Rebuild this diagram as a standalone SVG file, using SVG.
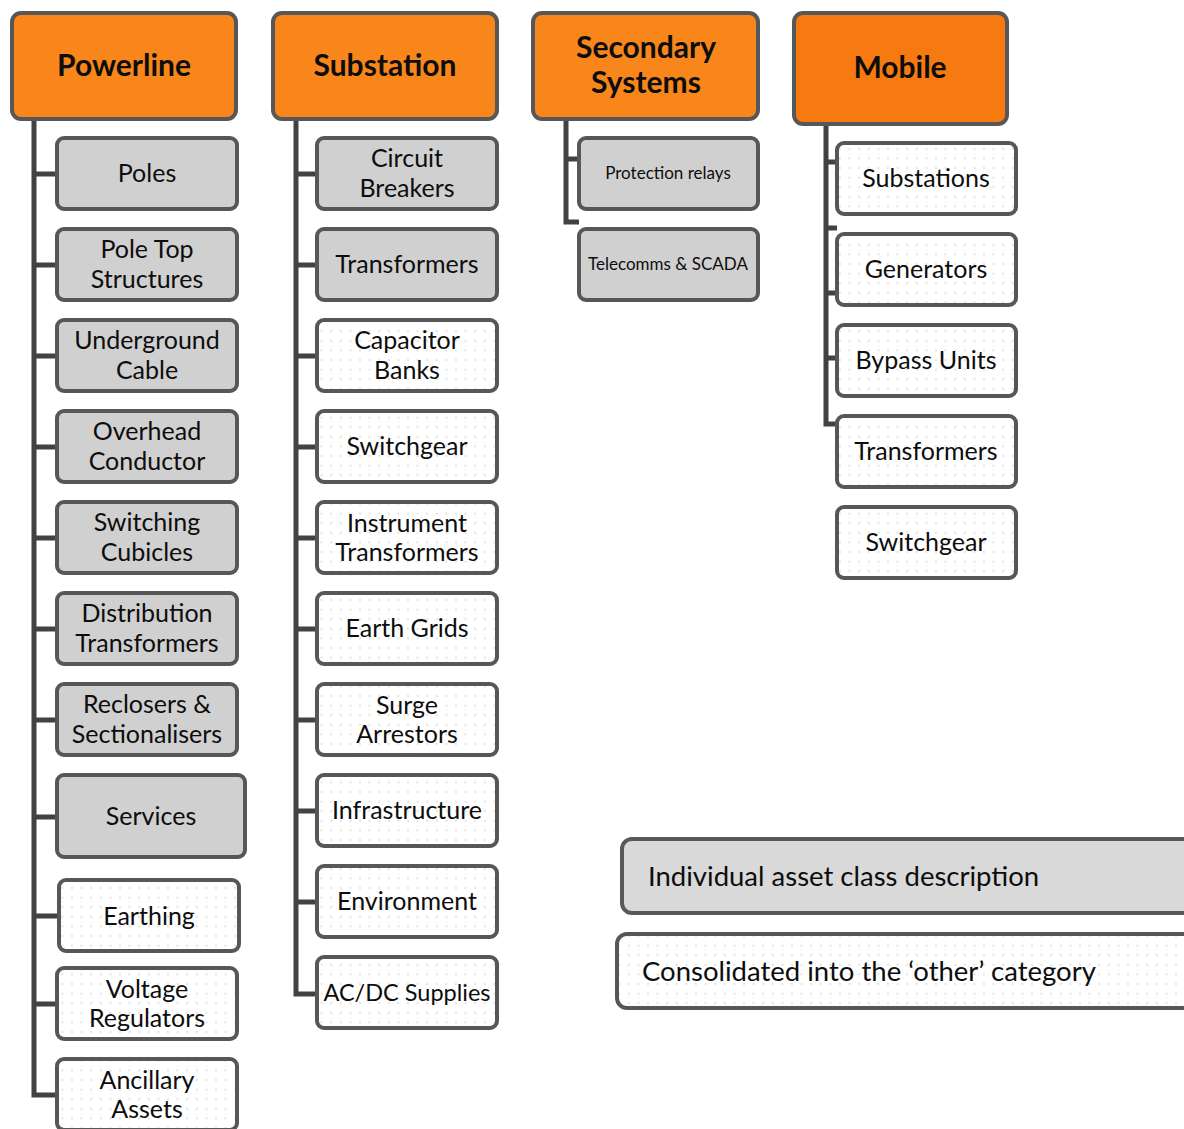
<svg xmlns="http://www.w3.org/2000/svg" width="1184" height="1129" viewBox="0 0 1184 1129">
<defs>
<pattern id="dots" x="0" y="0" width="9.6" height="9.6" patternUnits="userSpaceOnUse">
<rect width="9.6" height="9.6" fill="#ffffff"/>
<circle cx="4.8" cy="4.8" r="0.8" fill="#bdbdbd"/>
</pattern>
</defs>
<style>
.hdr{fill:#F8861A;stroke:#575757;stroke-width:4}
.hdrm{fill:#F77A10;stroke:#575757;stroke-width:4}
.g{fill:#D0D0D0;stroke:#575757;stroke-width:4}
.d{fill:url(#dots);stroke:#575757;stroke-width:4}
.lg{fill:#D9D9D9;stroke:#595959;stroke-width:4}
text{font-family:Lato,"Liberation Sans",sans-serif;fill:#0d0d0d;text-anchor:middle}
.h{font-size:30px;font-weight:bold}
.t{font-size:25px}
.s{font-size:17px}
.l{font-size:27.5px;text-anchor:start}
.c{fill:none;stroke:#424242;stroke-width:5}
</style>
<rect width="1184" height="1129" fill="#ffffff"/>
<g id="connectors" class="c">
<path d="M34 119V1095H57M34 174H57M34 265H57M34 356H57M34 447H57M34 538H57M34 629H57M34 720H57M34 817H57M34 916H59M34 1004H57"/>
<path d="M296 119V994H317M296 174H317M296 265H317M296 356H317M296 447H317M296 538H317M296 629H317M296 720H317M296 811H317M296 902H317"/>
<path d="M566 119V222H579M566 159H579"/>
<path d="M826 124V424H837M826 162H837M826 228H837M826 293H837M826 358H837"/>
</g>
<g id="powerline"><rect class="hdr" x="12" y="13" width="224" height="106" rx="9"/><text class="h" x="124" y="76">Powerline</text></g>
<g id="substation"><rect class="hdr" x="273" y="13" width="224" height="106" rx="9"/><text class="h" x="385" y="76">Substation</text></g>
<g id="secondary"><rect class="hdr" x="533" y="13" width="225" height="106" rx="9"/><text class="h" x="646" y="58">Secondary</text><text class="h" x="646" y="93">Systems</text></g>
<g id="mobile"><rect class="hdrm" x="794" y="13" width="213" height="111" rx="9"/><text class="h" x="900" y="78">Mobile</text></g>

<g id="poles"><rect class="g" x="57" y="138" width="180" height="71" rx="7"/><text class="t" x="147" y="182">Poles</text></g>
<g id="pole-top"><rect class="g" x="57" y="229" width="180" height="71" rx="7"/><text class="t" x="147" y="258">Pole Top</text><text class="t" x="147" y="288">Structures</text></g>
<g id="underground"><rect class="g" x="57" y="320" width="180" height="71" rx="7"/><text class="t" x="147" y="349">Underground</text><text class="t" x="147" y="379">Cable</text></g>
<g id="overhead"><rect class="g" x="57" y="411" width="180" height="71" rx="7"/><text class="t" x="147" y="440">Overhead</text><text class="t" x="147" y="470">Conductor</text></g>
<g id="switching"><rect class="g" x="57" y="502" width="180" height="71" rx="7"/><text class="t" x="147" y="531">Switching</text><text class="t" x="147" y="561">Cubicles</text></g>
<g id="distribution"><rect class="g" x="57" y="593" width="180" height="71" rx="7"/><text class="t" x="147" y="622">Distribution</text><text class="t" x="147" y="652">Transformers</text></g>
<g id="reclosers"><rect class="g" x="57" y="684" width="180" height="71" rx="7"/><text class="t" x="147" y="713">Reclosers &amp;</text><text class="t" x="147" y="743">Sectionalisers</text></g>
<g id="services"><rect class="g" x="57" y="775" width="188" height="82" rx="7"/><text class="t" x="151" y="825">Services</text></g>
<g id="earthing"><rect class="d" x="59" y="880" width="180" height="71" rx="7"/><text class="t" x="149" y="925">Earthing</text></g>
<g id="voltage"><rect class="d" x="57" y="968" width="180" height="71" rx="7"/><text class="t" x="147" y="998">Voltage</text><text class="t" x="147" y="1027">Regulators</text></g>
<g id="ancillary"><rect class="d" x="57" y="1059" width="180" height="71" rx="7"/><text class="t" x="147" y="1089">Ancillary</text><text class="t" x="147" y="1118">Assets</text></g>

<g id="circuit-breakers"><rect class="g" x="317" y="138" width="180" height="71" rx="7"/><text class="t" x="407" y="167">Circuit</text><text class="t" x="407" y="197">Breakers</text></g>
<g id="transformers-s"><rect class="g" x="317" y="229" width="180" height="71" rx="7"/><text class="t" x="407" y="273">Transformers</text></g>
<g id="capacitor"><rect class="d" x="317" y="320" width="180" height="71" rx="7"/><text class="t" x="407" y="349">Capacitor</text><text class="t" x="407" y="379">Banks</text></g>
<g id="switchgear-s"><rect class="d" x="317" y="411" width="180" height="71" rx="7"/><text class="t" x="407" y="455">Switchgear</text></g>
<g id="instrument"><rect class="d" x="317" y="502" width="180" height="71" rx="7"/><text class="t" x="407" y="532">Instrument</text><text class="t" x="407" y="561">Transformers</text></g>
<g id="earth-grids"><rect class="d" x="317" y="593" width="180" height="71" rx="7"/><text class="t" x="407" y="637">Earth Grids</text></g>
<g id="surge"><rect class="d" x="317" y="684" width="180" height="71" rx="7"/><text class="t" x="407" y="714">Surge</text><text class="t" x="407" y="743">Arrestors</text></g>
<g id="infrastructure"><rect class="d" x="317" y="775" width="180" height="71" rx="7"/><text class="t" x="407" y="819">Infrastructure</text></g>
<g id="environment"><rect class="d" x="317" y="866" width="180" height="71" rx="7"/><text class="t" x="407" y="910">Environment</text></g>
<g id="acdc"><rect class="d" x="317" y="957" width="180" height="71" rx="7"/><text class="t" x="407" y="1001" style="font-size:23.5px">AC/DC Supplies</text></g>

<g id="protection"><rect class="g" x="579" y="138" width="179" height="71" rx="7"/><text class="s" x="668" y="179">Protection relays</text></g>
<g id="telecomms"><rect class="g" x="579" y="229" width="179" height="71" rx="7"/><text class="s" x="668" y="270">Telecomms &amp; SCADA</text></g>

<g id="substations-m"><rect class="d" x="837" y="143" width="179" height="71" rx="7"/><text class="t" x="926" y="187">Substations</text></g>
<g id="generators"><rect class="d" x="837" y="234" width="179" height="71" rx="7"/><text class="t" x="926" y="278">Generators</text></g>
<g id="bypass"><rect class="d" x="837" y="325" width="179" height="71" rx="7"/><text class="t" x="926" y="369">Bypass Units</text></g>
<g id="transformers-m"><rect class="d" x="837" y="416" width="179" height="71" rx="7"/><text class="t" x="926" y="460">Transformers</text></g>
<g id="switchgear-m"><rect class="d" x="837" y="507" width="179" height="71" rx="7"/><text class="t" x="926" y="551">Switchgear</text></g>

<g id="legend-individual"><rect class="lg" x="622" y="839" width="572" height="74" rx="10"/><text class="l" x="648" y="886">Individual asset class description</text></g>
<g id="legend-other"><rect class="d" x="617" y="934" width="577" height="74" rx="10"/><text class="l" x="642" y="981">Consolidated into the ‘other’ category</text></g>
</svg>
